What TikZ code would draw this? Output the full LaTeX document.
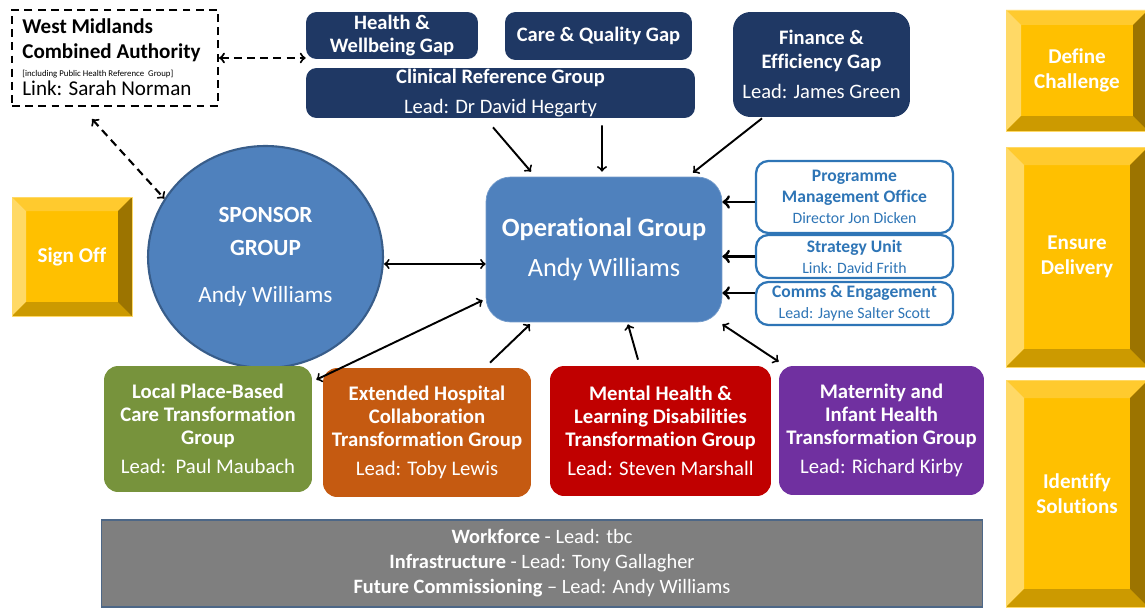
\documentclass[tikz,border=0pt]{standalone}
\usepackage{fontspec}
\setmainfont{Carlito}[Ligatures=NoCommon]
\usetikzlibrary{shapes.geometric}

\definecolor{navy}{HTML}{1F3864}
\definecolor{opblue}{HTML}{4F81BD}
\definecolor{opedge}{HTML}{385D8A}
\definecolor{supblue}{HTML}{2E75B6}
\definecolor{localgreen}{HTML}{77933C}
\definecolor{hosporange}{HTML}{C55A11}
\definecolor{mhred}{HTML}{C00000}
\definecolor{matpurple}{HTML}{7030A0}
\definecolor{enabgrey}{HTML}{7F7F7F}
\definecolor{goldface}{HTML}{FFC000}
\definecolor{goldtop}{HTML}{FFCA2E}
\definecolor{goldleft}{HTML}{FFD966}
\definecolor{goldbottom}{HTML}{CC9A00}
\definecolor{goldright}{HTML}{9C7400}

% bevelled gold button: name, x1, y1, x2, y2, bevel, text
\newcommand{\bevelbox}[7]{%
  \fill[goldface] (#2,#3) rectangle (#4,#5);
  \fill[goldtop] (#2,#3) -- (#4,#3) -- (#4-#6,#3+#6) -- (#2+#6,#3+#6) -- cycle;
  \fill[goldleft] (#2,#3) -- (#2+#6,#3+#6) -- (#2+#6,#5-#6) -- (#2,#5) -- cycle;
  \fill[goldbottom] (#2,#5) -- (#2+#6,#5-#6) -- (#4-#6,#5-#6) -- (#4,#5) -- cycle;
  \fill[goldright] (#4,#3) -- (#4-#6,#3+#6) -- (#4-#6,#5-#6) -- (#4,#5) -- cycle;
  \draw[goldleft,thin] (#2,#3) rectangle (#4,#5);
  \node[bevtext] (#1) at ({(#2+#4)/2},{(#3+#5)/2}) {#7};
}

\begin{document}
\begin{tikzpicture}[x=0.02cm,y=-0.02cm]
    \tikzstyle{gap}=[rectangle,rounded corners=6pt,fill=navy,text=white,align=center,inner sep=0pt,font=\fontsize{11.7}{13.5}\selectfont]
    \tikzstyle{stream}=[rectangle,rounded corners=8pt,text=white,align=center,inner sep=0pt,font=\fontsize{11.8}{13}\selectfont]
    \tikzstyle{support}=[rectangle,rounded corners=7pt,draw=supblue,line width=1.3pt,fill=white,text=supblue,align=center,inner sep=0pt,minimum width=3.94cm]
    \tikzstyle{bevtext}=[text=white,align=center,font=\bfseries\fontsize{12}{14}\selectfont]
    \tikzstyle{link}=[draw,line width=1.1pt,->]
    \tikzstyle{both}=[draw,line width=1.1pt,<->]
    \tikzstyle{feed}=[draw,line width=1.7pt,->]
    \tikzstyle{dlink}=[draw,line width=1.2pt,dash pattern=on 4.5pt off 3pt,<->]

    \useasboundingbox (0,0) rectangle (1145,608);
    \clip (0,0) rectangle (1145,608);

    % challenge gaps and reference group
    \node [gap,minimum width=3.44cm,minimum height=0.94cm] (hw) at (392,35.5) {\textbf{Health \&}\\\textbf{Wellbeing Gap}};
    \node [gap,minimum width=3.74cm,minimum height=0.96cm] (cq) at (598.5,36) {\textbf{Care \& Quality Gap}};
    \node [gap,minimum width=7.78cm,minimum height=1.0cm] (clin) at (500.5,93) {\textbf{Clinical Reference Group}\\[4pt]Lead: Dr David Hegarty};
    \node [gap,minimum width=3.54cm,minimum height=2.1cm,rounded corners=10pt] (fin) at (821.5,64.5) {\textbf{Finance \&}\\\textbf{Efficiency Gap}\\[4pt]Lead: James Green};

    % combined authority
    \node [draw,dash pattern=on 4.5pt off 3pt,line width=1.2pt,minimum width=4.12cm,minimum height=1.92cm,inner sep=0pt] (wmca) at (115,58) {};
    \node [anchor=north west,align=left,inner sep=0pt,font=\fontsize{12}{14.2}\selectfont] (wmcatxt) at (22,18) {\textbf{West Midlands}\\
      \textbf{Combined Authority}\\[-3.5pt]
      {\fontsize{5}{6}\selectfont [including Public Health Reference\ \ Group]}\\[-3.5pt]
      Link: Sarah Norman};

    % sponsor and operational groups
    \node [ellipse,draw=opedge,line width=1.2pt,fill=opblue,text=white,align=center,minimum width=4.7cm,minimum height=4.44cm,inner sep=0pt,font=\fontsize{13.2}{18.7}\selectfont] (spon) at (265.5,257) {\textbf{SPONSOR}\\\textbf{GROUP}\\[8pt]Andy Williams};
    \node [rectangle,rounded corners=14pt,fill=opblue,draw=opblue!80!white,text=white,align=center,minimum width=4.72cm,minimum height=2.9cm,inner sep=0pt,font=\fontsize{15}{23}\selectfont] (op) at (604,249.5) {\textbf{Operational Group}\\Andy Williams};

    % support units
    \node [support,minimum height=1.44cm] (pmo) at (854.5,197) {\fontsize{10}{11.4}\selectfont\textbf{Programme}\\\textbf{Management Office}\\{\fontsize{9}{11.4}\selectfont Director Jon Dicken}};
    \node [support,minimum height=0.86cm] (su) at (854.5,256.5) {\fontsize{10}{11.4}\selectfont\textbf{Strategy Unit}\\{\fontsize{9}{11.4}\selectfont Link: David Frith}};
    \node [support,minimum height=0.86cm] (ce) at (854.5,303.5) {\fontsize{10}{11.4}\selectfont\textbf{Comms \& Engagement}\\{\fontsize{9}{11.4}\selectfont Lead: Jayne Salter Scott}};

    % transformation groups
    \node [stream,fill=localgreen,minimum width=4.16cm,minimum height=2.52cm] (local) at (208,429) {\textbf{Local Place-Based}\\\textbf{Care Transformation}\\\textbf{Group}\\[4pt]Lead:\ \ Paul Maubach};
    \node [stream,fill=hosporange,minimum width=4.16cm,minimum height=2.58cm] (hosp) at (427,432.5) {\textbf{Extended Hospital}\\\textbf{Collaboration}\\\textbf{Transformation Group}\\[4pt]Lead: Toby Lewis};
    \node [stream,fill=mhred,minimum width=4.42cm,minimum height=2.6cm] (mhld) at (660.5,431) {\textbf{Mental Health \&}\\\textbf{Learning Disabilities}\\\textbf{Transformation Group}\\[4pt]Lead: Steven Marshall};
    \node [stream,fill=matpurple,minimum width=4.1cm,minimum height=2.58cm] (mat) at (881.5,430.5) {\textbf{Maternity and}\\\textbf{Infant Health}\\\textbf{Transformation Group}\\[4pt]Lead: Richard Kirby};

    % enabling workstreams
    \node [rectangle,fill=enabgrey,draw=opedge!70!enabgrey,line width=0.6pt,text=white,align=center,minimum width=17.64cm,minimum height=1.74cm,inner sep=0pt,font=\fontsize{11.6}{14.2}\selectfont] (enab) at (542,563.5) {\textbf{Workforce} - Lead: tbc\\\textbf{Infrastructure} - Lead: Tony Gallagher\\\textbf{Future Commissioning} -- Lead: Andy Williams};

    % stages
    \bevelbox{signoff}{12}{197}{132}{316}{14}{Sign Off}
    \bevelbox{define}{1006}{10}{1148}{131}{15}{Define\\Challenge}
    \bevelbox{ensure}{1006}{147}{1148}{367}{18}{Ensure\\Delivery}
    \bevelbox{identify}{1006}{380}{1148}{607}{18}{Identify\\Solutions}

    % connectors
    \path[dlink] (wmca.east) -- (wmca.east -| hw.west);
    \path[dlink] ([xshift=-0.46cm,yshift=-0.24cm]wmca.south) -- (spon.150);
    \path[link] ([xshift=-0.15cm,yshift=-0.18cm]clin.south) -- ([xshift=-1.46cm,yshift=0.1cm]op.north);
    \path[link] ([xshift=2.03cm,yshift=-0.14cm]clin.south) -- ([xshift=-0.04cm,yshift=0.1cm]op.north);
    \path[link] ([xshift=-1.19cm,yshift=-0.02cm]fin.south) -- ([xshift=1.78cm,yshift=0.08cm]op.north);
    \path[feed] ([yshift=-0.1cm]pmo.west) -- ([yshift=-0.1cm]pmo.west -| op.east);
    \path[feed] (su.west) -- (su.west -| op.east);
    \path[feed] ([yshift=0.21cm]ce.west) -- ([yshift=0.21cm]ce.west -| op.east);
    \path[both] ([yshift=-0.14cm]spon.east) -- ([yshift=-0.14cm]spon.east -| op.west);
    \path[both] ([xshift=-0.06cm,yshift=0.44cm]op.south west) -- ([xshift=0.08cm,yshift=-0.28cm]local.north east);
    \path[link] ([xshift=1.26cm,yshift=0.1cm]hosp.north) -- ([xshift=-1.48cm,yshift=-0.04cm]op.south);
    \path[link] ([xshift=-0.45cm,yshift=0.12cm]mhld.north) -- ([xshift=0.48cm,yshift=-0.04cm]op.south);
    \path[both] ([yshift=-0.04cm]op.south east) -- ([yshift=0.08cm]mat.north west);
\end{tikzpicture}
\end{document}
